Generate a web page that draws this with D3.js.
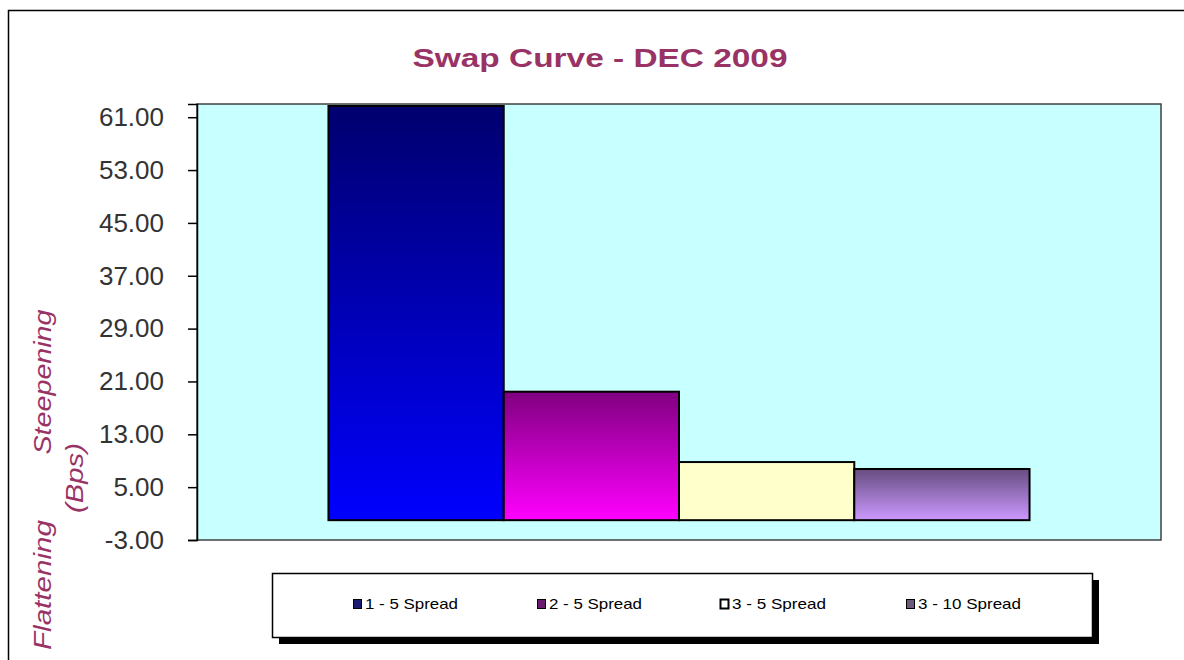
<!DOCTYPE html>
<html lang="en">
<head>
  <meta charset="UTF-8">
  <title>Swap Curve - DEC 2009</title>
  <style>
    body { margin: 0; background: #fff; }
    svg { display: block; font-family: Arial, "Liberation Sans", sans-serif; }
    .tick text { font-size: 26px; fill: #333; }
    .axis-title { font-size: 23px; font-style: italic; fill: #993366; }
    .legend text { font-size: 15px; fill: #000; }
  </style>
</head>
<body>
  <svg width="1184" height="660"></svg>

  <script src="https://d3js.org/d3.v7.min.js"></script>
  <script>
    const categories = ["DEC 2009"];
    const series = ["1 - 5 Spread", "2 - 5 Spread", "3 - 5 Spread", "3 - 10 Spread"];
    const values = [62.7, 19.45, 8.8, 7.75];
    const tickValues = [-3, 5, 13, 21, 29, 37, 45, 53, 61];

    // gradient top / bottom for each series
    const topColors = ["#00006e", "#800080", "#ffffcc", "#664c80"];
    const bottomColors = ["#0000ff", "#ff00ff", "#ffffcc", "#cc99ff"];
    const legendColors = ["#1a1a6e", "#6a1a6e", "#ffffff", "#6b5b7b"];

    const svg = d3.select("svg");
    const plot = { left: 197, right: 1161, top: 104, bottom: 540 };

    // outer chart border
    svg.append("rect")
      .attr("x", 8.5).attr("y", 10.5)
      .attr("width", 1200).attr("height", 700)
      .attr("fill", "#fff")
      .attr("stroke", "#000").attr("stroke-width", 1.5);

    // gradients
    const defs = svg.append("defs");
    series.forEach((s, i) => {
      const g = defs.append("linearGradient")
        .attr("id", "grad" + i)
        .attr("x1", 0).attr("y1", 0).attr("x2", 0).attr("y2", 1);
      g.append("stop").attr("offset", "0%").attr("stop-color", topColors[i]);
      g.append("stop").attr("offset", "100%").attr("stop-color", bottomColors[i]);
    });

    const x0 = d3.scaleBand()
      .domain(categories)
      .range([plot.left, plot.right])
      .paddingInner(0)
      .paddingOuter(0.1875);

    const x1 = d3.scaleBand()
      .domain(series)
      .range([0, x0.bandwidth()]);

    const y = d3.scaleLinear()
      .domain([-3, 63])
      .range([plot.bottom, plot.top]);

    // plot area
    svg.append("rect")
      .attr("x", plot.left).attr("y", plot.top)
      .attr("width", plot.right - plot.left)
      .attr("height", plot.bottom - plot.top)
      .attr("fill", "#c8ffff")
      .attr("stroke", "#404040").attr("stroke-width", 1.5);

    // bars
    const group = svg.append("g")
      .attr("transform", `translate(${x0(categories[0])},0)`);

    group.selectAll("rect")
      .data(series)
      .join("rect")
      .attr("x", d => x1(d))
      .attr("y", (d, i) => y(values[i]))
      .attr("width", x1.bandwidth())
      .attr("height", (d, i) => y(0) - y(values[i]))
      .attr("fill", (d, i) => `url(#grad${i})`)
      .attr("stroke", "#000")
      .attr("stroke-width", 2);

    // y axis
    const yAxis = svg.append("g")
      .attr("transform", `translate(${plot.left},0)`)
      .call(d3.axisLeft(y)
        .tickValues(tickValues)
        .tickFormat(d => d.toFixed(2))
        .tickSize(9)
        .tickPadding(24));
    yAxis.select(".domain").attr("stroke", "#000").attr("stroke-width", 1.5);
    yAxis.selectAll(".tick line").attr("stroke", "#000").attr("stroke-width", 1.5);
    yAxis.selectAll(".tick text").attr("font-family", null).attr("font-size", null);

    // title
    svg.append("text")
      .attr("x", 600).attr("y", 67)
      .attr("text-anchor", "middle")
      .attr("textLength", 375)
      .attr("lengthAdjust", "spacingAndGlyphs")
      .style("font-size", "26px")
      .style("font-weight", "bold")
      .style("fill", "#993366")
      .text("Swap Curve - DEC  2009");

    // axis titles
    const axisTitles = [
      { text: "Steepening", x: 43, y: 382, len: 145 },
      { text: "(Bps)", x: 75, y: 478, len: 70 },
      { text: "Flattening", x: 43, y: 585, len: 130 }
    ];
    svg.selectAll(".axis-title")
      .data(axisTitles)
      .join("text")
      .attr("class", "axis-title")
      .attr("transform", d => `translate(${d.x},${d.y}) rotate(-90)`)
      .attr("text-anchor", "middle")
      .attr("dy", "0.35em")
      .attr("textLength", d => d.len)
      .attr("lengthAdjust", "spacingAndGlyphs")
      .text(d => d.text);

    // legend
    const legend = svg.append("g").attr("class", "legend");
    legend.append("rect")
      .attr("x", 279).attr("y", 580)
      .attr("width", 820).attr("height", 64)
      .attr("fill", "#000");
    legend.append("rect")
      .attr("x", 272.5).attr("y", 573.5)
      .attr("width", 820).attr("height", 64)
      .attr("fill", "#fff")
      .attr("stroke", "#000").attr("stroke-width", 1.5);

    const legendX = [353, 537, 720, 906];
    const labelLen = [93, 93, 94, 103];
    const item = legend.selectAll(".item")
      .data(series)
      .join("g")
      .attr("class", "item")
      .attr("transform", (d, i) => `translate(${legendX[i]},604)`);
    item.append("rect")
      .attr("x", 0.5).attr("y", -4.5)
      .attr("width", 8).attr("height", 9)
      .attr("fill", (d, i) => legendColors[i])
      .attr("stroke", "#000").attr("stroke-width", (d, i) => i === 2 ? 2 : 1);
    item.append("text")
      .attr("x", 12)
      .attr("dy", "0.36em")
      .attr("textLength", (d, i) => labelLen[i])
      .attr("lengthAdjust", "spacingAndGlyphs")
      .text(d => d);
  </script>
</body>
</html>
